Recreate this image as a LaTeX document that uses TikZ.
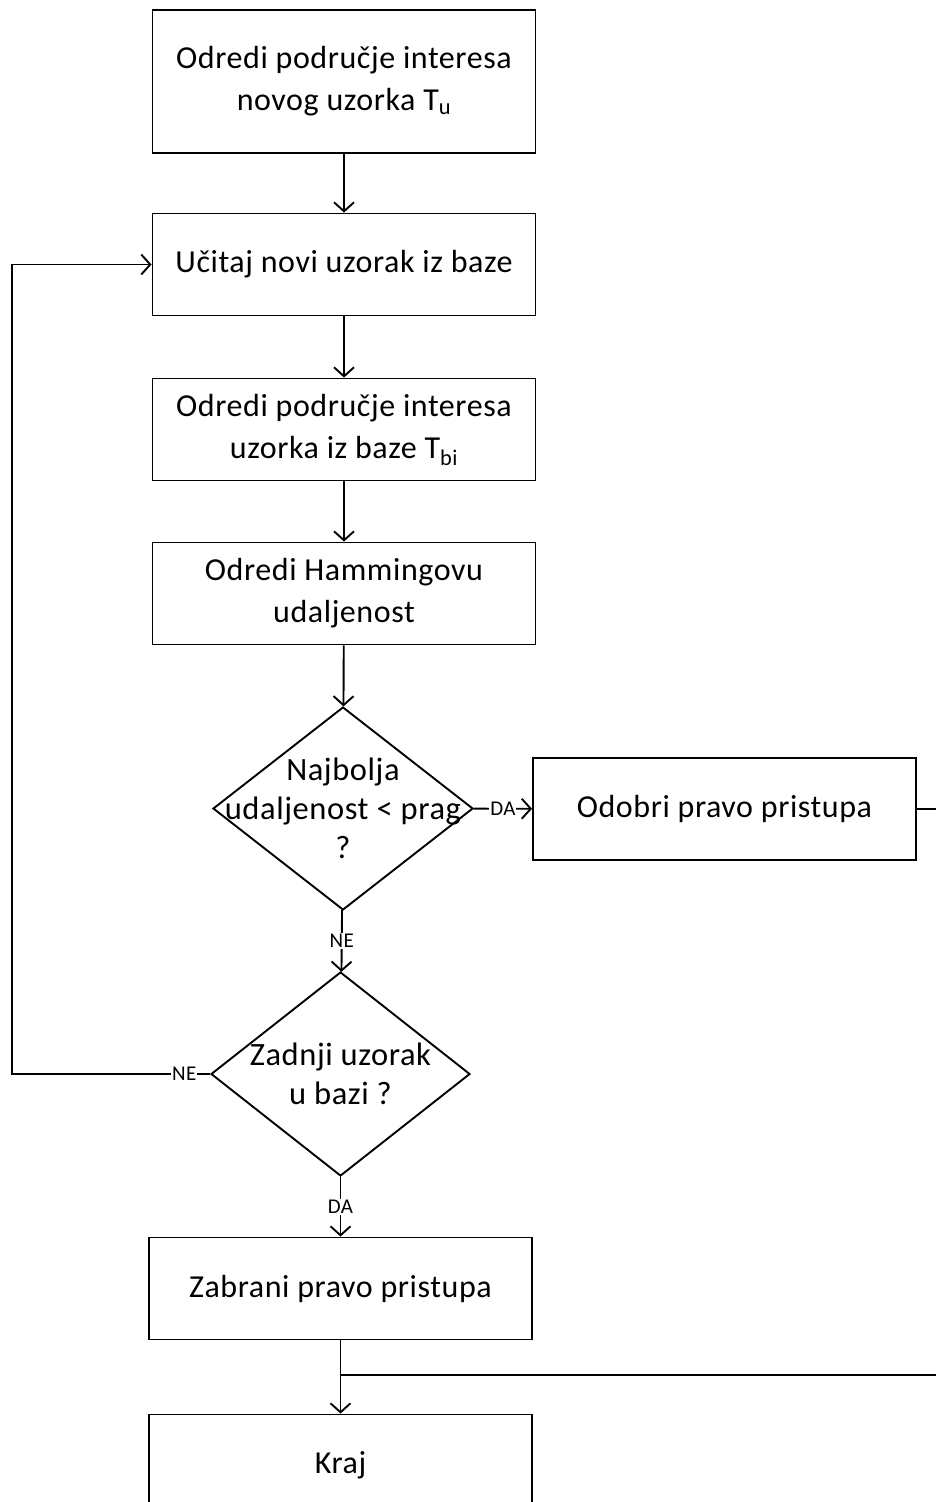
\documentclass[tikz,border=0pt]{standalone}
\usepackage{fontspec}
\setmainfont{Carlito}[LetterSpace=1.8]
\usetikzlibrary{arrows.meta,shapes.geometric}
\tikzset{stepbox/.style={draw,line width=1.9pt,minimum width=383pt,minimum height=102pt,inner sep=0pt,align=center,font=\fontsize{32}{42}\selectfont}, decision/.style={draw,diamond,line width=1.9pt,inner sep=0pt}, dtext/.style={align=center,font=\fontsize{32.5}{39}\selectfont,inner sep=0pt}, flow/.style={-{Straight Barb[length=9pt,width=20pt]},line width=1.9pt}, rel/.style={font=\fontsize{21}{24}\selectfont,fill=white,inner sep=1pt}}

\begin{document}
\begin{tikzpicture}[x=1pt,y=-1pt]
\useasboundingbox (0,0) rectangle (935,1502);
\node[stepbox,minimum height=143pt] (a) at (344,81.5) {Odredi područje interesa\\novog uzorka T\textsubscript{u}};
\node[stepbox] (b) at (344,264.5) {Učitaj novi uzorak iz baze};
\node[stepbox] (c) at (344,429.5) {Odredi područje interesa\\uzorka iz baze T\textsubscript{bi}};
\node[stepbox] (d) at (344,593.5) {Odredi Hammingovu\\udaljenost};
\node[decision,minimum width=260pt,minimum height=203pt] (e) at (343,808.5) {};
\node[dtext] (et) at (e) {Najbolja\\udaljenost < prag\\?};
\node[stepbox] (f) at (724.5,809) {Odobri pravo pristupa};
\node[decision,minimum width=259pt,minimum height=204pt] (g) at (340.5,1074) {};
\node[dtext] (gt) at (g) {Zadnji uzorak\\u bazi ?};
\node[stepbox] (h) at (340.5,1288.5) {Zabrani pravo pristupa};
\node[stepbox] (k) at (340.5,1465.5) {Kraj};
\coordinate (loop) at (12,1074);
\coordinate (rail) at (950,1375);
\coordinate (join) at (340.5,1375);
\draw[flow] (a)--(b);
\draw[flow] (b)--(c);
\draw[flow] (c)--(d);
\draw[flow] (d)--(e);
\draw[flow] (e)--node[rel]{DA}(f);
\draw[flow] (e)--node[rel]{NE}(g);
\draw[flow] (g.west)--node[rel,pos=0.13]{NE}(loop)|-(b.west);
\draw[flow] (g)--node[rel]{DA}(h);
\draw[flow] (h)--(k);
\draw[line width=1.9pt] (f.east)-|(rail)--(join);
\end{tikzpicture}
\end{document}
